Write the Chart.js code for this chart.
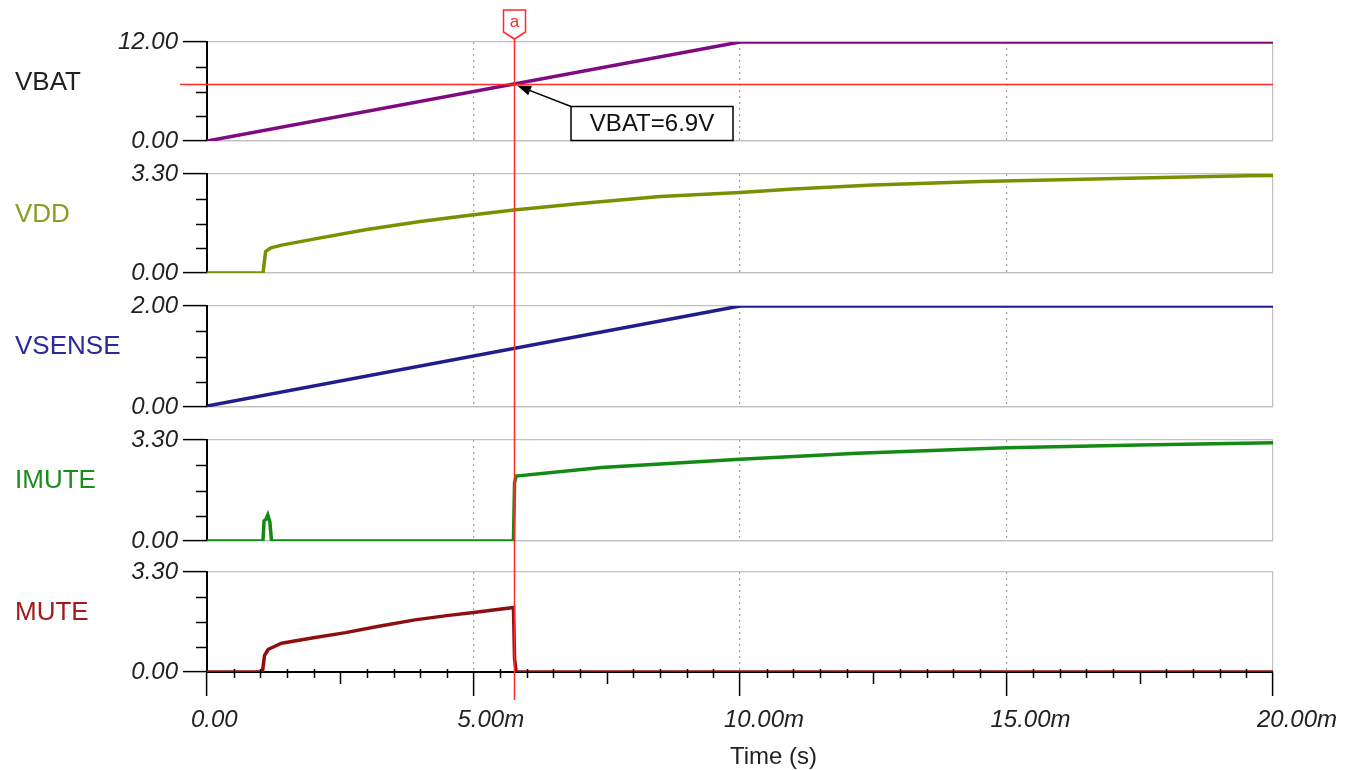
<!DOCTYPE html>
<html>
<head>
<meta charset="utf-8">
<script src="https://cdn.jsdelivr.net/npm/chart.js@4.4.0/dist/chart.umd.min.js"></script>
<style>
  html, body { margin: 0; padding: 0; background: #fff; }
  #wrap { position: relative; width: 1361px; height: 770px; overflow: hidden; }
  #wrap canvas { position: absolute; left: 0; }
</style>
</head>
<body>
<div id="wrap"></div>
<script>
// time axis in ms
const vbatTime = [0, 10, 20]
const vbatVolts = [0, 12, 12]

const vddTime = [0, 1.05, 1.10, 1.20, 1.40, 2.0, 3.0, 4.0, 5.0, 5.76, 7.0, 8.5, 10.0, 11.0, 12.5, 14.5, 16.0, 17.5, 19.5, 20]
const vddVolts = [0, 0, 0.72, 0.84, 0.93, 1.13, 1.45, 1.72, 1.94, 2.10, 2.32, 2.55, 2.68, 2.80, 2.93, 3.05, 3.11, 3.17, 3.24, 3.25]

const vsenseTime = [0, 10, 20]
const vsenseVolts = [0.02, 2.0, 2.0]

const imuteTime = [0, 1.05, 1.07, 1.11, 1.14, 1.18, 1.21, 5.75, 5.77, 5.80, 7.4, 10.0, 12.2, 15.0, 17.5, 20]
const imuteVolts = [0, 0, 0.65, 0.72, 0.85, 0.62, 0, 0, 1.9, 2.12, 2.40, 2.67, 2.87, 3.05, 3.14, 3.21]

const muteTime = [0, 1.04, 1.08, 1.15, 1.4, 2.0, 2.6, 3.2, 3.9, 4.5, 5.0, 5.75, 5.77, 5.80, 20]
const muteVolts = [0, 0, 0.55, 0.75, 0.95, 1.13, 1.30, 1.50, 1.72, 1.86, 1.96, 2.13, 0.45, 0, 0]

const panelNames = ['VBAT', 'VDD', 'VSENSE', 'IMUTE', 'MUTE']
const panelMax = [12, 3.3, 2, 3.3, 3.3]
const xTicks = [0, 5, 10, 15, 20]
const xTickLabels = ['0.00', '5.00m', '10.00m', '15.00m', '20.00m']
const xTitle = 'Time (s)'

const cursorTime = 5.76
const cursorValue = 6.9
const cursorName = 'a'
const cursorText = 'VBAT=6.9V'

// look
const lineColors = ['#800a80', '#7a9000', '#1e1e8c', '#138a13', '#8c1010']
const nameColors = ['#222222', '#8c9c22', '#2a2a9a', '#1c8c1c', '#a01c1c']
const FONT = 'Liberation Sans'
const RED = '#ff2a2a'

// canvas top, height, padding top/bottom
const layoutRows = [
  [0, 157, 42, 16],
  [157, 133, 17, 17],
  [290, 134, 16, 17],
  [424, 132, 16, 15],
  [556, 214, 16, 0]
]

const seriesTime = [vbatTime, vddTime, vsenseTime, imuteTime, muteTime]
const seriesVals = [vbatVolts, vddVolts, vsenseVolts, imuteVolts, muteVolts]

const scopePlugin = {
    id: 'scope',
    afterDatasetsDraw(chart, args, o) {
        const {ctx, scales: {x}} = chart
        const cx = Math.round(x.getPixelForValue(cursorTime)) + 0.5
        ctx.save()
        ctx.strokeStyle = RED
        ctx.lineWidth = 1.5
        ctx.beginPath()
        ctx.moveTo(cx, o.cursorTop)
        ctx.lineTo(cx, o.cursorBottom)
        ctx.stroke()
        ctx.restore()
    },
    afterDraw(chart, args, o) {
        const {ctx, chartArea: a, scales: {x, y}} = chart
        ctx.save()

        // minor y ticks
        ctx.strokeStyle = '#000'
        ctx.lineWidth = 1.5
        for (let k = 1; k < 4; k++) {
            const py = Math.round(y.getPixelForValue(y.max * k / 4)) + 0.5
            ctx.beginPath()
            ctx.moveTo(a.left - 11, py)
            ctx.lineTo(a.left, py)
            ctx.stroke()
        }

        // panel name
        ctx.fillStyle = o.nameColor
        ctx.font = '26px "' + FONT + '"'
        ctx.textBaseline = 'middle'
        ctx.textAlign = 'left'
        ctx.fillText(o.name, 15, a.top + 41)

        if (o.first) {
            const tx = x.getPixelForValue(cursorTime)
            const ty = Math.round(y.getPixelForValue(cursorValue)) + 0.5
            // level line
            ctx.strokeStyle = RED
            ctx.lineWidth = 1.5
            ctx.beginPath()
            ctx.moveTo(a.left - 27, ty)
            ctx.lineTo(a.right, ty)
            ctx.stroke()

            // cursor flag
            const cx = Math.round(tx) + 0.5
            ctx.fillStyle = '#fff'
            ctx.beginPath()
            ctx.moveTo(cx - 11, 10)
            ctx.lineTo(cx + 11, 10)
            ctx.lineTo(cx + 11, 32)
            ctx.lineTo(cx, 39)
            ctx.lineTo(cx - 11, 32)
            ctx.closePath()
            ctx.fill()
            ctx.stroke()
            ctx.fillStyle = RED
            ctx.font = '17px "' + FONT + '"'
            ctx.textAlign = 'center'
            ctx.fillText(cursorName, cx, 22)

            // annotation box + arrow
            const bx = tx + 57, by = ty + 22, bw = 162, bh = 34
            ctx.fillStyle = '#fff'
            ctx.fillRect(bx, by, bw, bh)
            ctx.strokeStyle = '#000'
            ctx.lineWidth = 1.5
            ctx.strokeRect(bx, by, bw, bh)
            ctx.fillStyle = '#111'
            ctx.font = '24px "' + FONT + '"'
            ctx.fillText(cursorText, bx + bw / 2, by + bh / 2 + 1)

            const px = tx + 3, py = ty + 1
            const ang = Math.atan2(by - py, bx - px)
            ctx.beginPath()
            ctx.moveTo(bx, by)
            ctx.lineTo(px + 10 * Math.cos(ang), py + 10 * Math.sin(ang))
            ctx.stroke()
            ctx.fillStyle = '#000'
            ctx.beginPath()
            ctx.moveTo(px, py)
            ctx.lineTo(px + 14 * Math.cos(ang) - 5 * Math.sin(ang), py + 14 * Math.sin(ang) + 5 * Math.cos(ang))
            ctx.lineTo(px + 14 * Math.cos(ang) + 5 * Math.sin(ang), py + 14 * Math.sin(ang) - 5 * Math.cos(ang))
            ctx.closePath()
            ctx.fill()
        }

        if (o.last) {
            // minor x ticks every 0.5ms, medium ones at 2.5ms
            ctx.strokeStyle = '#000'
            ctx.lineWidth = 1.5
            for (let k = 1; k < 40; k++) {
                if (k % 10 === 0) continue
                const px = Math.round(x.getPixelForValue(k / 2)) + 0.5
                ctx.beginPath()
                if (k % 5 === 0) {
                    ctx.moveTo(px, a.bottom)
                    ctx.lineTo(px, a.bottom + 12)
                } else {
                    ctx.moveTo(px, a.bottom - 3)
                    ctx.lineTo(px, a.bottom + 6)
                }
                ctx.stroke()
            }
            ctx.fillStyle = '#222'
            ctx.font = '24px "' + FONT + '"'
            ctx.textAlign = 'left'
            ctx.textBaseline = 'middle'
            ctx.fillText(xTitle, 730, a.bottom + 85)
        }
        ctx.restore()
    }
}

Chart.defaults.font.family = FONT

function renderPanels() {
    const wrap = document.querySelector('#wrap')
    for (let i = 0; i < 5; i++) {
        const [top, h, padTop, padBottom] = layoutRows[i]
        const first = i === 0
        const last = i === 4
        const max = panelMax[i]

        const canvas = document.createElement('canvas')
        canvas.width = 1361
        canvas.height = h
        canvas.style.top = top + 'px'
        canvas.style.width = '1361px'
        canvas.style.height = h + 'px'
        wrap.appendChild(canvas)

        const data = seriesTime[i].map((t, j) => ({x: t, y: seriesVals[i][j]}))

        new Chart(canvas.getContext('2d'), {
            type: 'line',
            data: {
                datasets: [
                    {
                        label: panelNames[i],
                        data: data,
                        borderColor: lineColors[i],
                        borderWidth: 3.5,
                        pointRadius: 0,
                        tension: 0,
                        fill: false
                    }
                ]
            },
            options: {
                responsive: false,
                animation: false,
                events: [],
                layout: {padding: {left: 0, right: 88, top: padTop, bottom: padBottom}},
                plugins: {
                    legend: {display: false},
                    tooltip: {enabled: false},
                    scope: {
                        name: panelNames[i],
                        nameColor: nameColors[i],
                        first: first,
                        last: last,
                        cursorTop: first ? 39 : 0,
                        cursorBottom: last ? 144 : h
                    }
                },
                scales: {
                    x: {
                        type: 'linear',
                        min: 0,
                        max: 20,
                        afterBuildTicks: s => { s.ticks = xTicks.map(v => ({value: v})) },
                        afterFit: s => {
                            s.height = last ? 98 : 0
                            s.paddingLeft = 0
                            s.paddingRight = 0
                        },
                        ticks: {
                            display: last,
                            autoSkip: false,
                            maxRotation: 0,
                            align: 'start',
                            labelOffset: -16,
                            padding: 10,
                            color: '#222',
                            font: {size: 24, style: 'italic'},
                            callback: (v, idx) => xTickLabels[idx]
                        },
                        grid: {
                            color: c => (c.tick && c.tick.value > 0) ? (c.tick.value < 20 ? '#a0a0a0' : '#c0c0c0') : 'rgba(0,0,0,0)',
                            lineWidth: 1.2,
                            drawTicks: last,
                            tickLength: 24,
                            tickColor: '#000',
                            tickWidth: 1.5
                        },
                        border: {
                            display: true,
                            color: last ? '#000' : '#c0c0c0',
                            width: last ? 2 : 1.2,
                            dash: c => (c.tick && c.tick.value < 20) ? [2, 4] : []
                        }
                    },
                    y: {
                        min: 0,
                        max: max,
                        afterBuildTicks: s => { s.ticks = [{value: 0}, {value: max}] },
                        afterFit: s => {
                            s.width = 207
                            s.paddingTop = 0
                            s.paddingBottom = 0
                        },
                        ticks: {
                            padding: 5,
                            color: '#222',
                            font: {size: 24, style: 'italic'},
                            callback: v => v.toFixed(2)
                        },
                        grid: {
                            color: '#c0c0c0',
                            lineWidth: 1.2,
                            tickLength: 24,
                            tickColor: '#000',
                            tickWidth: 1.5
                        },
                        border: {color: '#000', width: 2}
                    }
                }
            },
            plugins: [scopePlugin]
        })
    }
}

renderPanels()
</script>
</body>
</html>
